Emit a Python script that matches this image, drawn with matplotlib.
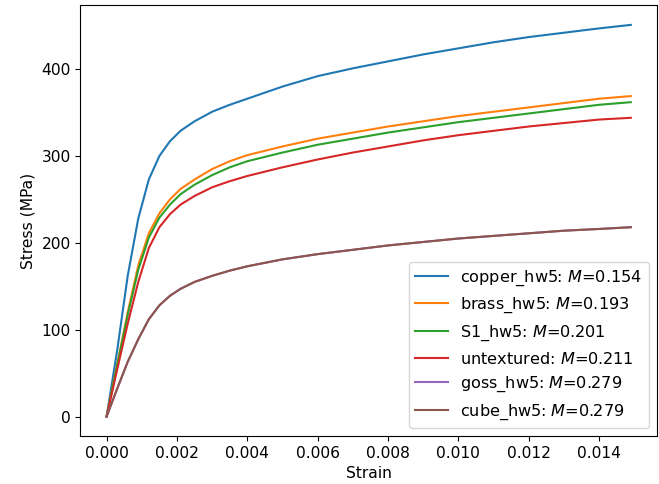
import numpy as np
import matplotlib
matplotlib.use("Agg")
import matplotlib.pyplot as plt

strain = [0.0, 0.0003, 0.0006, 0.0009, 0.0012, 0.0015, 0.0018, 0.0021, 0.0025,
          0.003, 0.0035, 0.004, 0.005, 0.006, 0.007, 0.008, 0.009, 0.010,
          0.011, 0.012, 0.013, 0.014, 0.0149]

copper = [0, 76, 162, 228, 273, 300, 317, 329, 340, 351, 359, 366, 380, 392,
          401, 409, 417, 424, 431, 437, 442, 447, 451]
brass = [0, 60, 120, 174, 211, 234, 250, 262, 273, 285, 294, 301, 311, 320,
         327, 334, 340, 346, 351, 356, 361, 366, 369]
s1 = [0, 59, 117, 169, 206, 229, 244, 256, 267, 278, 287, 294, 304, 313,
      320, 327, 333, 339, 344, 349, 354, 359, 362]
untextured = [0, 54, 107, 155, 194, 218, 233, 244, 254, 264, 271, 277, 287, 296,
              304, 311, 318, 324, 329, 334, 338, 342, 344]
goss = [0, 32, 63, 89, 112, 128, 139, 147, 155, 162, 168, 173, 181, 187,
        192, 197, 201, 205, 208, 211, 214, 216, 218]
cube = [0, 32, 63, 89, 112, 128, 139, 147, 155, 162, 168, 173, 181, 187,
        192, 197, 201, 205, 208, 211, 214, 216, 218]

names = ["copper_hw5", "brass_hw5", "S1_hw5", "untextured", "goss_hw5", "cube_hw5"]
m_values = [0.154, 0.193, 0.201, 0.211, 0.279, 0.279]
curves = [copper, brass, s1, untextured, goss, cube]

plt.rcParams["font.size"] = 11.2

fig, ax = plt.subplots(figsize=(6.59, 4.84), dpi=100)
fig.subplots_adjust(left=0.122, right=0.997, top=0.989, bottom=0.099)

for name, m, stress in zip(names, m_values, curves):
    ax.plot(strain, stress, label=f"{name}: $M$={m}")

ax.set_xticks(np.arange(0, 0.0141, 0.002))
ax.legend(loc="lower right", fontsize=11.6)
ax.set_xlabel("Strain")
ax.set_ylabel("Stress (MPa)")
fig.savefig("out.png", dpi=100)
